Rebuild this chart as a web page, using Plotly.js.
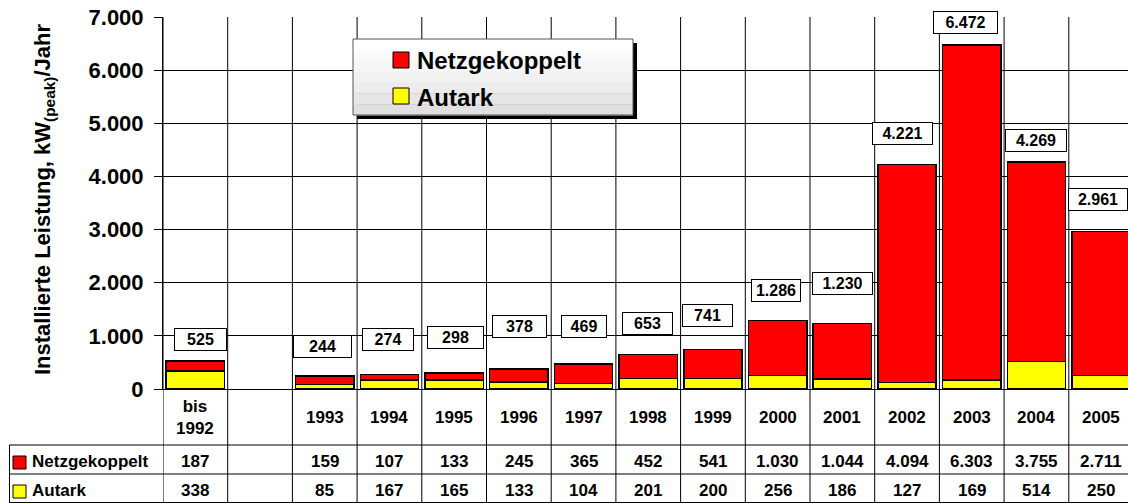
<!DOCTYPE html>
<html><head><meta charset="utf-8">
<script src="https://cdn.plot.ly/plotly-3.0.1.min.js"></script>
<style>html,body{margin:0;padding:0;background:#fff}#chart{width:1128px;height:503px}</style>
</head><body><div id="chart"></div>
<script>
// ---- data ----
const categories = ['bis 1992', '', '1993', '1994', '1995', '1996', '1997', '1998', '1999', '2000', '2001', '2002', '2003', '2004', '2005'];
const categoryLabels = ['bis<br>1992', '', '1993', '1994', '1995', '1996', '1997', '1998', '1999', '2000', '2001', '2002', '2003', '2004', '2005'];
const netzgekoppelt = [187, null, 159, 107, 133, 245, 365, 452, 541, 1030, 1044, 4094, 6303, 3755, 2711];
const autark = [338, null, 85, 167, 165, 133, 104, 201, 200, 256, 186, 127, 169, 514, 250];
const seriesNames = ['Netzgekoppelt', 'Autark'];
const yTitle = 'Installierte Leistung, kW<sub>(peak)</sub>/Jahr';

// ---- layout helpers (pixel geometry of the reference) ----
const W = 1128, H = 503;
const L = 163, T = 17, B = 389;               // plot area edges
const colW = 64.7;
const plotW = W - L, plotH = B - T;
const px2x = X => (X - L) / plotW;            // paper x
const px2y = Y => (B - Y) / plotH;            // paper y
const idx = categories.map((c, i) => i);
const totals = netzgekoppelt.map((v, i) => v == null ? null : v + autark[i]);
const fmt = n => String(n).replace(/\B(?=(\d{3})+(?!\d))/g, '.');
const FONT = 'Arial, "Liberation Sans", sans-serif';

// box placement of the total labels (pixels)
const labelCenterPx = [339.5, null, 346, 339, 337.5, 326.7, 326.8, 323.7, 315.3, 290.5, 283, 133.3, 23, 140.7, 199.7];
const labelShiftPx = [5, 0, -2, -1.5, 1, 1, 0, -1, -5.5, -2, 0.5, -4.5, -6, 0, -3];
const labelBoxW = [53, 0, 59, 52, 57, 55, 46, 51, 51, 50, 61, 61, 65, 62, 60];

const traces = [
  {type: 'bar', x: idx, y: autark, name: seriesNames[1], width: 0.9,
   marker: {color: '#FFFF00', line: {color: '#000', width: 1.5}}, hoverinfo: 'skip'},
  {type: 'bar', x: idx, y: netzgekoppelt, name: seriesNames[0], width: 0.9,
   marker: {color: '#FF0000', line: {color: '#000', width: 1.5}}, hoverinfo: 'skip'}
];

const shapes = [];
const annotations = [];
const lineBlack = {color: '#000', width: 1};
const yBottom = px2y(H);

// vertical column lines through plot and table
for (let i = -1; i < categories.length; i++) {
  shapes.push({type: 'line', layer: 'below', xref: 'x', yref: 'paper', x0: i + 0.5, x1: i + 0.5, y0: yBottom, y1: 1, line: lineBlack});
}
// table horizontal lines
[445, 474, 502.5].forEach(Y => {
  shapes.push({type: 'line', layer: 'below', xref: 'paper', yref: 'paper', x0: px2x(9), x1: 1, y0: px2y(Y), y1: px2y(Y), line: lineBlack});
});
shapes.push({type: 'line', layer: 'below', xref: 'paper', yref: 'paper', x0: px2x(9.5), x1: px2x(9.5), y0: px2y(445), y1: yBottom, line: lineBlack});

// table legend swatches
[[456, '#FF0000'], [485, '#FFFF00']].forEach(([Y, c]) => {
  shapes.push({type: 'rect', layer: 'above', xref: 'paper', yref: 'paper', x0: px2x(13), x1: px2x(26), y0: px2y(Y), y1: px2y(Y + 13), fillcolor: c, line: {color: '#000', width: 1}});
});
annotations.push({xref: 'paper', yref: 'paper', x: px2x(30), y: px2y(461), xanchor: 'left', yanchor: 'middle', showarrow: false, text: seriesNames[0], font: {family: FONT, size: 17, weight: 'bold', color: '#000'}});
annotations.push({xref: 'paper', yref: 'paper', x: px2x(30), y: px2y(490), xanchor: 'left', yanchor: 'middle', showarrow: false, text: seriesNames[1], font: {family: FONT, size: 17, weight: 'bold', color: '#000'}});

// category row + table values
idx.forEach(i => {
  if (categoryLabels[i]) {
    annotations.push({xref: 'x', yref: 'paper', x: i, y: px2y(417), xanchor: 'center', yanchor: 'middle', showarrow: false, text: categoryLabels[i], font: {family: FONT, size: 17, weight: 'bold', color: '#000'}});
  }
  if (netzgekoppelt[i] != null) {
    annotations.push({xref: 'x', yref: 'paper', x: i, y: px2y(461), xanchor: 'center', yanchor: 'middle', showarrow: false, text: fmt(netzgekoppelt[i]), font: {family: FONT, size: 17, weight: 'bold', color: '#000'}});
    annotations.push({xref: 'x', yref: 'paper', x: i, y: px2y(490), xanchor: 'center', yanchor: 'middle', showarrow: false, text: fmt(autark[i]), font: {family: FONT, size: 17, weight: 'bold', color: '#000'}});
  }
  if (totals[i] != null) {
    annotations.push({xref: 'x', yref: 'paper', x: i, xshift: labelShiftPx[i], y: px2y(labelCenterPx[i]), xanchor: 'center', yanchor: 'middle', showarrow: false,
      text: fmt(totals[i]), width: labelBoxW[i] - 4, height: 19, borderpad: 1, borderwidth: 1, bordercolor: '#000', bgcolor: '#fff',
      font: {family: FONT, size: 16, weight: 'bold', color: '#000'}});
  }
});

// floating legend box with shadow and gradient
shapes.push({type: 'rect', layer: 'above', xref: 'paper', yref: 'paper', x0: px2x(357), x1: px2x(637), y0: px2y(43), y1: px2y(119), fillcolor: '#000', line: {width: 0}});
const bands = ['#ffffff', '#fbfbfb', '#f6f6f6', '#f1f1f1', '#ececec', '#e6e6e6', '#e0e0e0'];
const lt = 39, lb = 115, bh = (lb - lt) / bands.length;
bands.forEach((c, k) => {
  shapes.push({type: 'rect', layer: 'above', xref: 'paper', yref: 'paper', x0: px2x(353), x1: px2x(633), y0: px2y(lt + k * bh), y1: px2y(lt + (k + 1) * bh + 0.5), fillcolor: c, line: {width: 0}});
});
shapes.push({type: 'rect', layer: 'above', xref: 'paper', yref: 'paper', x0: px2x(353), x1: px2x(633), y0: px2y(lt), y1: px2y(lb), fillcolor: 'rgba(0,0,0,0)', line: {color: '#555', width: 1}});
[[52, '#FF0000', seriesNames[0], 60], [88, '#FFFF00', seriesNames[1], 97]].forEach(([Y, c, name, ty]) => {
  shapes.push({type: 'rect', layer: 'above', xref: 'paper', yref: 'paper', x0: px2x(393), x1: px2x(409), y0: px2y(Y), y1: px2y(Y + 16), fillcolor: c, line: {color: '#000', width: 1}});
  annotations.push({xref: 'paper', yref: 'paper', x: px2x(415), y: px2y(ty), xanchor: 'left', yanchor: 'middle', showarrow: false, text: name, font: {family: FONT, size: 24, weight: 'bold', color: '#000'}});
});

// y axis title
annotations.push({xref: 'paper', yref: 'paper', x: px2x(44), y: px2y(200), xanchor: 'center', yanchor: 'middle', textangle: -90, showarrow: false, text: yTitle, font: {family: FONT, size: 22, weight: 'bold', color: '#000'}});

const layout = {
  width: W, height: H,
  margin: {l: L, r: 0, t: T, b: H - B, pad: 0},
  paper_bgcolor: '#fff', plot_bgcolor: 'rgba(0,0,0,0)',
  barmode: 'stack', showlegend: false,
  separators: ',.',
  font: {family: FONT, color: '#000'},
  xaxis: {range: [-0.5, -0.5 + plotW / colW], showticklabels: false, showgrid: false, zeroline: false, showline: true, linecolor: '#000', linewidth: 1, ticks: '', fixedrange: true},
  yaxis: {range: [0, 7000], dtick: 1000, tickformat: ',d', showgrid: true, gridcolor: '#000', gridwidth: 1, zeroline: false,
          showline: true, linecolor: '#000', linewidth: 1, ticks: 'outside', ticklen: 8, tickcolor: '#000', tickwidth: 1,
          ticklabelstandoff: 6, tickfont: {family: FONT, size: 22, weight: 'bold', color: '#000'}, fixedrange: true},
  shapes: shapes,
  annotations: annotations
};

Plotly.newPlot('chart', traces, layout, {staticPlot: true, displayModeBar: false});
</script>
</body></html>
